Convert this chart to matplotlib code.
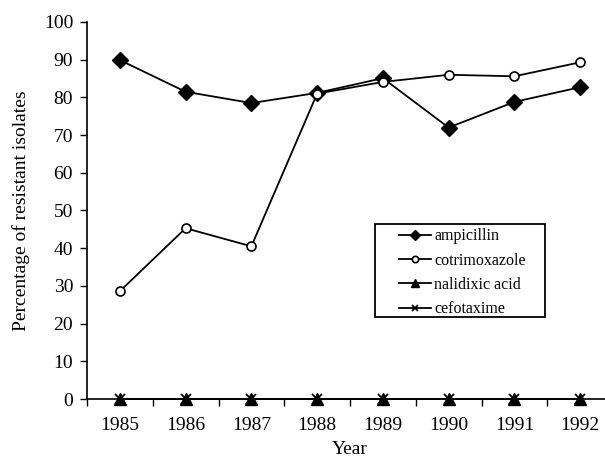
# Resistance of isolates by year
import matplotlib
matplotlib.use('Agg')
import matplotlib.pyplot as plt
from matplotlib.ticker import FixedLocator
from matplotlib.patches import Rectangle

plt.rcParams['font.family'] = ['Liberation Serif', 'DejaVu Serif']

years = [1985, 1986, 1987, 1988, 1989, 1990, 1991, 1992]
ampicillin = [89.9, 81.5, 78.5, 81.2, 85.1, 72.0, 78.8, 82.7]
cotrimoxazole = [28.6, 45.3, 40.5, 81.0, 84.1, 86.0, 85.6, 89.3]
nalidixic_acid = [0, 0, 0, 0, 0, 0, 0, 0]
cefotaxime = [0, 0, 0, 0, 0, 0, 0, 0]

fig = plt.figure(figsize=(6.05, 4.61), dpi=100)
ax = fig.add_axes([87 / 605, 62 / 461, 526 / 605, 377 / 461])

ax.plot(years, ampicillin, color='black', lw=1.3, marker='D', ms=8,
        mfc='black', mec='black', label='ampicillin', clip_on=False)
ax.plot(years, cotrimoxazole, color='black', lw=1.3, marker='o', ms=6.5,
        mfc='white', mec='black', mew=1.2, label='cotrimoxazole', clip_on=False)
ax.plot(years, nalidixic_acid, color='black', lw=1.3, marker='^', ms=8,
        mfc='black', mec='black', label='nalidixic acid', clip_on=False, zorder=3)
ax.plot(years, cefotaxime, color='black', lw=1.3, marker='x', ms=7,
        mec='black', mew=1.3, label='cefotaxime', clip_on=False, zorder=3)

ax.set_xlim(1984.5, 1992.5)
ax.set_ylim(0, 100)
ax.set_yticks(range(0, 101, 10))
ax.set_xticks(years)
ax.set_xticklabels([str(y) for y in years])
ax.xaxis.set_minor_locator(FixedLocator([y + 0.5 for y in [1984] + years]))
ax.tick_params(axis='x', which='major', length=0, pad=13, labelsize=14)
ax.tick_params(axis='x', which='minor', length=5, width=1, direction='out')
ax.tick_params(axis='y', length=5, width=1, direction='out', labelsize=14, pad=5)

ax.spines['top'].set_visible(False)
ax.spines['right'].set_visible(False)
ax.spines['left'].set_linewidth(1.2)
ax.spines['bottom'].set_linewidth(1.2)
for sp in ax.spines.values():
    sp.set_clip_on(False)

ax.set_xlabel('Year', fontsize=14, labelpad=5)
ax.set_ylabel('Percentage of resistant isolates', fontsize=14, labelpad=10)

leg = ax.legend(loc='upper left', bbox_to_anchor=(0.593, 0.453), borderaxespad=0,
                fontsize=11.5, frameon=False, borderpad=0,
                handlelength=2.0, handletextpad=0.2, labelspacing=0.52,
                markerscale=0.7)
ax.add_patch(Rectangle((0.5475, 0.2175), 0.323, 0.2465, transform=ax.transAxes,
                       fill=False, edgecolor='black', lw=1.3, zorder=4))

fig.savefig('out.png', dpi=100)
